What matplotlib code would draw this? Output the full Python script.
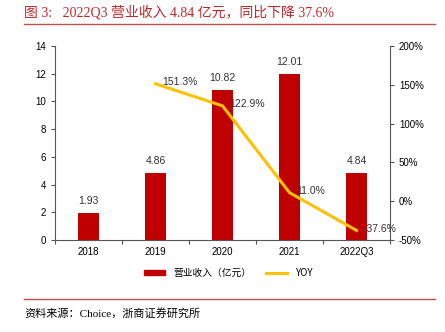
import matplotlib.pyplot as plt
from matplotlib.lines import Line2D
from matplotlib.patches import Patch

plt.rcParams['font.family'] = ['Liberation Sans', 'Noto Sans CJK SC', 'DejaVu Sans']

years = ["2018", "2019", "2020", "2021", "2022Q3"]
revenue = [1.93, 4.86, 10.82, 12.01, 4.84]
yoy_years = ["2019", "2020", "2021", "2022Q3"]
yoy = [151.3, 122.9, 11.0, -37.6]

bar_color = "#C00000"
line_color = "#FFC000"
title_red = "#C0282C"

fig = plt.figure(figsize=(4.45, 3.32), dpi=100)

# title and rules
fig.text(24/445, 1-12/332, "图 3:   2022Q3 营业收入 4.84 亿元，同比下降 37.6%",
         color=title_red, fontsize=10, va="center", ha="left",
         family=['Liberation Serif', 'Noto Sans CJK SC'])
fig.add_artist(Line2D([24/445, 435/445], [1-24/332, 1-24/332], color="#C0504D", lw=1))
fig.add_artist(Line2D([24/445, 435/445], [1-299/332, 1-299/332], color="#C0504D", lw=1))
fig.text(24/445, 1-313/332, "资料来源：Choice，浙商证券研究所", fontsize=8,
         va="center", ha="left", family=['Liberation Serif', 'Noto Sans CJK SC'])

ax = fig.add_axes([55/445, 1-240/332, 335/445, 194/332])
x = list(range(len(years)))
ax.bar(x, revenue, width=0.32, color=bar_color, zorder=2)
for xi, v in zip(x, revenue):
    ax.annotate(f"{v:.2f}", (xi, v), xytext=(0, 5), textcoords="offset points",
                ha="center", va="bottom", fontsize=7.5, color="#333333")
ax.set_xlim(-0.5, 4.5)
ax.set_ylim(0, 14)
ax.set_yticks(range(0, 15, 2))
ax.set_xticks(x)
ax.set_xticklabels(years)
ax.set_xticks([i + 0.5 for i in range(-1, len(years))], minor=True)
ax.tick_params(axis="both", labelsize=7, length=3, width=0.8, color="#555555")
ax.tick_params(axis="x", which="major", length=0, pad=5)
ax.tick_params(axis="x", which="minor", length=3, width=0.8, color="#555555")
for s in ["top", "right"]:
    ax.spines[s].set_visible(False)
ax.spines["left"].set_color("#555555")
ax.spines["bottom"].set_color("#555555")

ax2 = ax.twinx()
xi2 = [years.index(y) for y in yoy_years]
ax2.plot(xi2, yoy, color=line_color, lw=2.2, zorder=3)
for xx, v in zip(xi2, yoy):
    ax2.annotate(f"{v:.1f}%", (xx, v), xytext=(5, 1), textcoords="offset points",
                 ha="left", va="center", fontsize=7.5, color="#333333")
ax2.set_ylim(-50, 200)
ax2.set_yticks(range(-50, 201, 50))
ax2.set_yticklabels([f"{t}%" for t in range(-50, 201, 50)])
ax2.tick_params(axis="y", labelsize=7, length=3, width=0.8, color="#555555")
for s in ["top", "left", "bottom"]:
    ax2.spines[s].set_visible(False)
ax2.spines["right"].set_color("#555555")

handles = [Patch(color=bar_color), Line2D([0], [0], color=line_color, lw=2.2)]
fig.legend(handles, ["营业收入（亿元）", "YOY"], loc="center",
           bbox_to_anchor=(228/445, 1-273/332), ncol=2, frameon=False,
           handlelength=2.2, handleheight=0.5, columnspacing=1.5,
           prop={'family': ['Noto Sans CJK SC', 'DejaVu Sans'], 'size': 7})

fig.savefig("out.png", dpi=100)
